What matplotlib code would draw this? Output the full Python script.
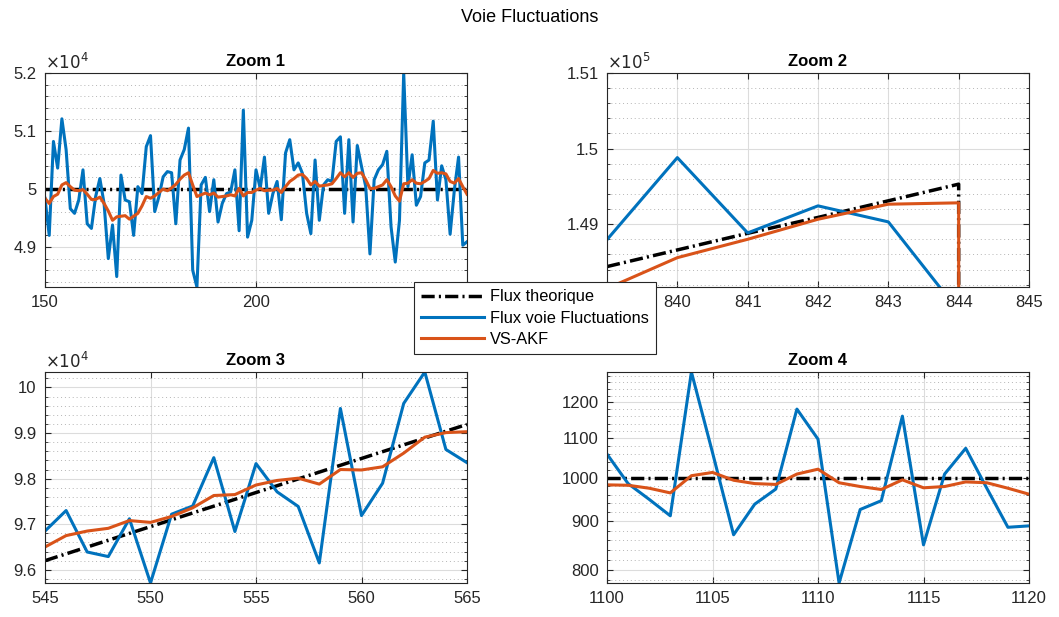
import numpy as np
import matplotlib.pyplot as plt
from matplotlib.ticker import FixedLocator, FuncFormatter, NullFormatter, MultipleLocator

plt.rcParams['font.family'] = ['Liberation Sans', 'DejaVu Sans']

# ---------------- data ----------------
# Zoom 1 : samples 150..250, values in flux units
z1_x = list(range(150, 251))
z1_flux = [4.984, 4.920, 5.082, 5.036, 5.121, 5.068, 4.966, 4.958, 4.981, 5.033,
           4.940, 4.932, 4.987, 5.018, 4.975, 4.880, 4.938, 4.849, 5.024, 4.981,
           4.978, 4.920, 5.004, 4.992, 5.073, 5.092, 4.961, 4.987, 5.021, 5.030,
           5.028, 4.940, 5.050, 5.068, 5.105, 4.860, 4.831, 5.007, 5.020, 4.961,
           5.016, 4.943, 4.975, 4.992, 4.995, 5.033, 4.928, 5.136, 4.917, 4.946,
           5.033, 5.001, 5.055, 4.958, 4.992, 5.013, 4.947, 5.062, 5.085, 5.033,
           5.045, 5.027, 4.958, 4.923, 5.050, 4.946, 5.007, 5.016, 5.013, 5.082,
           5.090, 4.958, 5.085, 4.943, 5.075, 5.039, 5.004, 4.888, 5.016, 5.033,
           5.042, 5.065, 4.935, 4.874, 4.946, 5.200, 5.004, 5.059, 4.972, 4.987,
           5.045, 5.050, 5.117, 4.981, 5.040, 5.016, 4.922, 4.998, 5.055, 4.903,
           4.909]
z1_akf = [4.984, 4.975, 4.987, 4.991, 5.007, 5.011, 5.004, 4.998, 4.997, 4.999,
          4.991, 4.982, 4.982, 4.986, 4.975, 4.962, 4.946, 4.952, 4.953, 4.954,
          4.948, 4.953, 4.958, 4.971, 4.987, 4.984, 4.988, 4.994, 5.000, 4.997,
          5.002, 5.008, 5.017, 5.024, 5.028, 5.007, 4.987, 4.990, 4.993, 4.990,
          4.993, 4.986, 4.987, 4.988, 4.990, 4.988, 5.001, 4.988, 4.994, 4.994,
          4.998, 5.001, 4.997, 4.998, 4.998, 5.001, 4.994, 5.004, 5.013, 5.018,
          5.024, 5.025, 5.018, 5.007, 5.013, 5.005, 5.006, 5.007, 5.009, 5.018,
          5.028, 5.021, 5.028, 5.020, 5.027, 5.028, 5.016, 5.001, 5.001, 5.004,
          5.007, 5.016, 5.004, 4.988, 4.979, 5.009, 5.010, 5.016, 5.010, 5.009,
          5.013, 5.018, 5.032, 5.027, 5.028, 5.026, 5.013, 5.010, 5.018, 5.004,
          4.991]
z1_theo_x = [150, 250]
z1_theo = [5.0, 5.0]
z1_flux = [v * 1e4 for v in z1_flux]
z1_akf = [v * 1e4 for v in z1_akf]
z1_theo = [v * 1e4 for v in z1_theo]

# Zoom 2 : end of the record (signal stops at 844)
z2_x = [839, 840, 841, 842, 843, 844]
z2_flux = [1.48796, 1.49881, 1.48885, 1.49243, 1.49031, 1.4785]
z2_akf_x = [839, 840, 841, 842, 843, 844, 844]
z2_akf = [1.4815, 1.48558, 1.48801, 1.49066, 1.49265, 1.49283, 0.0]
z2_theo_x = [839, 840, 841, 842, 843, 844, 844]
z2_theo = [1.4844, 1.4866, 1.4888, 1.4909, 1.4931, 1.4953, 0.0]
z2_flux = [v * 1e5 for v in z2_flux]
z2_akf = [v * 1e5 for v in z2_akf]
z2_theo = [v * 1e5 for v in z2_theo]

# Zoom 3 : samples 545..565
z3_x = list(range(545, 566))
z3_flux = [9.685, 9.730, 9.639, 9.629, 9.712, 9.571, 9.722, 9.740, 9.846, 9.684,
           9.833, 9.771, 9.739, 9.615, 9.954, 9.719, 9.790, 9.965, 10.034, 9.864,
           9.835]
z3_akf = [9.650, 9.675, 9.685, 9.691, 9.708, 9.704, 9.717, 9.736, 9.763, 9.765,
          9.786, 9.796, 9.801, 9.788, 9.820, 9.819, 9.826, 9.856, 9.891, 9.901,
          9.903]
z3_theo_x = [545, 565]
z3_theo = [9.620, 9.919]
z3_flux = [v * 1e4 for v in z3_flux]
z3_akf = [v * 1e4 for v in z3_akf]
z3_theo = [v * 1e4 for v in z3_theo]

# Zoom 4 : samples 1100..1120 (log y axis)
z4_x = list(range(1100, 1121))
z4_flux = [1059, 986, 949, 912, 1292, 1063, 871, 938, 973, 1181,
           1098, 775, 926, 946, 1161, 850, 1009, 1074, 975, 887, 890]
z4_akf = [983, 982, 975, 964, 1005, 1013, 994, 986, 984, 1009,
          1021, 988, 979, 972, 995, 976, 979, 990, 988, 975, 961]
z4_theo_x = [1100, 1120]
z4_theo = [1000, 1000]

labels = ['Flux theorique', 'Flux voie Fluctuations', 'VS-AKF']

# ---------------- styling ----------------
BLUE = '#0072BD'
ORANGE = '#D95319'
AXC = '#262626'
dashdot = (0, (3.8, 1.2, 0.6, 1.2))

W, H = 1059, 617
fig = plt.figure(figsize=(W / 100, H / 100), dpi=100)


def make_ax(left, right, top, bottom):
    return fig.add_axes([left / W, 1 - bottom / H, (right - left) / W, (bottom - top) / H])


def style(ax, title):
    ax.set_title(title, fontsize=12, fontweight='bold', pad=5)
    for s in ax.spines.values():
        s.set_color(AXC)
        s.set_linewidth(0.8)
    ax.tick_params(which='both', direction='in', top=True, right=True,
                   colors=AXC, labelsize=12, pad=6)
    ax.tick_params(which='major', length=4)
    ax.tick_params(which='minor', length=2.5)
    ax.grid(True, which='major', color='#dcdcdc', linewidth=0.8)
    ax.grid(True, which='minor', axis='y', color='#b5b5b5', linestyle=(0, (1, 3)), linewidth=0.7)
    ax.set_axisbelow(True)


def draw(ax, xt, yt, x, yf, xa, ya):
    h1, = ax.plot(xt, yt, color='k', lw=2.5, linestyle=dashdot)
    h2, = ax.plot(x, yf, color=BLUE, lw=2.2)
    h3, = ax.plot(xa, ya, color=ORANGE, lw=2.2)
    return [h1, h2, h3]


def sci(ax, p):
    ax.yaxis.set_major_formatter(FuncFormatter(lambda v, pos: '%g' % round(v / 10 ** p, 6)))
    ax.text(0.0, 1.005, r'$\times10^{%d}$' % p, transform=ax.transAxes, fontsize=12,
            color=AXC, ha='left', va='bottom')


# Zoom 1
ax1 = make_ax(45, 467, 73, 287)
handles = draw(ax1, z1_theo_x, z1_theo, z1_x, z1_flux, z1_x, z1_akf)
ax1.set_xlim(150, 250)
ax1.set_ylim(48310, 52000)
ax1.set_xticks([150, 200, 250])
ax1.yaxis.set_major_locator(FixedLocator([49000, 50000, 51000, 52000]))
ax1.yaxis.set_minor_locator(MultipleLocator(200))
style(ax1, 'Zoom 1')
sci(ax1, 4)

# Zoom 2
ax2 = make_ax(607, 1029, 73, 287)
draw(ax2, z2_theo_x, z2_theo, z2_x, z2_flux, z2_akf_x, z2_akf)
ax2.set_xlim(839, 845)
ax2.set_ylim(148170, 151000)
ax2.set_xticks(range(839, 846))
ax2.yaxis.set_major_locator(FixedLocator([149000, 150000, 151000]))
ax2.yaxis.set_minor_locator(MultipleLocator(200))
style(ax2, 'Zoom 2')
sci(ax2, 5)

# Zoom 3
ax3 = make_ax(45, 467, 372, 583)
draw(ax3, z3_theo_x, z3_theo, z3_x, z3_flux, z3_x, z3_akf)
ax3.set_xlim(545, 565)
ax3.set_ylim(95710, 100340)
ax3.set_xticks(range(545, 566, 5))
ax3.yaxis.set_major_locator(FixedLocator([96000, 97000, 98000, 99000, 100000]))
ax3.yaxis.set_minor_locator(MultipleLocator(200))
style(ax3, 'Zoom 3')
sci(ax3, 4)

# Zoom 4
ax4 = make_ax(607, 1029, 372, 583)
draw(ax4, z4_theo_x, z4_theo, z4_x, z4_flux, z4_x, z4_akf)
ax4.set_yscale('log')
ax4.set_xlim(1100, 1120)
ax4.set_ylim(775, 1292)
ax4.set_xticks(range(1100, 1121, 5))
ax4.yaxis.set_major_locator(FixedLocator([800, 900, 1000, 1100, 1200]))
ax4.yaxis.set_major_formatter(FuncFormatter(lambda v, pos: '%d' % v))
ax4.yaxis.set_minor_locator(FixedLocator(list(range(780, 1300, 20))))
ax4.yaxis.set_minor_formatter(NullFormatter())
style(ax4, 'Zoom 4')

fig.suptitle('Voie Fluctuations', fontsize=13, y=1 - 18 / H, va='center')

leg = fig.legend(handles, labels, loc='upper left', bbox_to_anchor=(414 / W, 1 - 282 / H),
                 fontsize=11.8, frameon=True, fancybox=False, framealpha=1,
                 edgecolor=AXC, handlelength=3.8, borderpad=0.45, labelspacing=0.38,
                 handletextpad=0.4, borderaxespad=0)
leg.get_frame().set_linewidth(0.8)
leg.set_zorder(10)

fig.savefig('out.png', dpi=100)
